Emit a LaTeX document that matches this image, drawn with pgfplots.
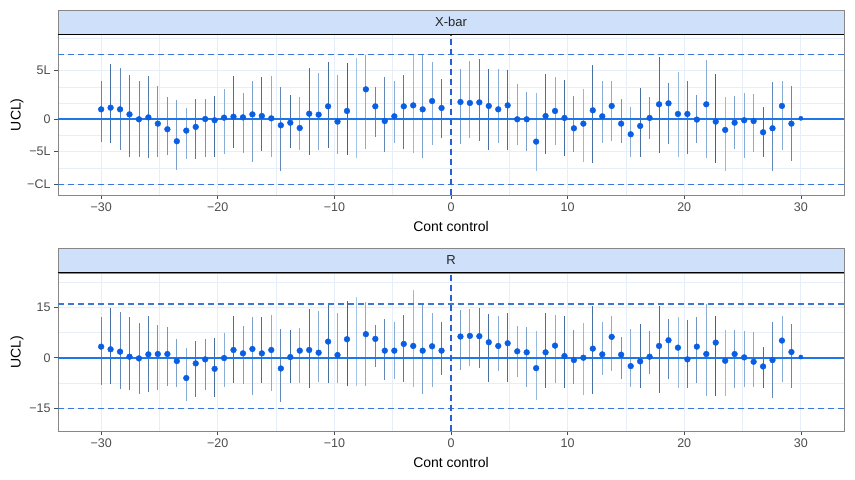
\documentclass[border=0pt]{standalone}
\usepackage{fontspec}
\setmainfont{Liberation Sans}
\usepackage{pgfplots}
\usepackage{pgfplotstable}
\pgfplotsset{compat=1.18}

\definecolor{ptblue}{RGB}{10,94,228}
\definecolor{meanblue}{RGB}{30,118,232}
\definecolor{limline}{RGB}{60,118,215}
\definecolor{zeroline}{RGB}{40,96,210}
\definecolor{gridc}{RGB}{230,238,249}
\definecolor{stripfill}{RGB}{207,224,250}
\definecolor{borderc}{RGB}{135,135,135}
\definecolor{ticklab}{RGB}{77,77,77}

% x-bar chart: subgroup mean, interval ends, shade of the interval
\pgfplotstableread{
x y lo hi c
-30.00 1.03 -2.31 4.00 0.6
-29.19 1.20 -2.49 5.72 0.8
-28.38 1.03 -3.18 5.27 0.6
-27.57 0.51 -3.93 4.58 0.7
-26.76 0.00 -3.86 3.93 0.6
-25.95 0.20 -4.03 4.48 0.7
-25.14 -0.45 -3.86 3.48 0.5
-24.32 -1.03 -3.72 2.27 0.5
-23.51 -2.27 -5.24 2.00 0.4
-22.70 -1.17 -4.07 1.20 0.3
-21.89 -0.79 -4.07 2.13 0.7
-21.08 0.03 -3.86 2.10 0.5
-20.27 -0.10 -3.86 2.37 0.8
-19.46 0.17 -3.59 3.13 0.3
-18.65 0.27 -2.93 4.51 0.8
-17.84 0.20 -3.45 2.76 0.4
-17.03 0.51 -4.38 3.96 0.4
-16.22 0.34 -3.24 4.34 0.8
-15.41 0.10 -3.86 4.48 0.3
-14.59 -0.62 -5.31 3.34 0.6
-13.78 -0.35 -2.93 2.51 0.8
-12.97 -0.90 -3.18 2.34 0.3
-12.16 0.58 -3.69 5.27 0.8
-11.35 0.48 -3.17 4.82 0.3
-10.54 1.34 -2.93 5.96 0.8
-9.73 -0.24 -3.59 4.58 0.3
-8.92 0.86 -3.69 5.79 0.9
-8.11 nan -3.97 6.37 0.1
-7.30 3.10 -3.10 6.65 0.3
-6.49 1.34 -1.80 3.37 0.6
-5.68 -0.18 -3.35 4.41 0.6
-4.86 0.31 -2.48 4.00 0.3
-4.05 1.34 -3.10 4.58 0.7
-3.24 1.44 -3.52 6.65 0.2
-2.43 1.03 -4.03 6.65 0.4
-1.62 1.89 -2.65 5.96 0.3
-0.81 1.17 -1.97 4.13 0.7
0.81 1.79 -2.55 5.17 0.4
1.62 1.69 -1.97 6.03 0.3
2.43 1.75 -2.20 6.24 0.7
3.24 1.38 -3.17 5.17 0.8
4.05 1.03 -2.48 5.17 0.3
4.86 1.44 -3.17 5.10 0.8
5.68 0.00 -2.65 3.65 0.3
6.49 0.00 -3.24 2.86 0.4
7.30 -2.31 -5.31 2.69 0.2
8.11 0.34 -3.59 4.69 0.8
8.92 0.86 -2.65 4.34 0.3
9.73 0.14 -3.75 4.07 0.8
10.54 -0.93 -3.35 2.45 0.5
11.35 -0.45 -4.38 3.10 0.2
12.16 0.93 -4.48 5.62 0.8
12.97 0.31 -2.41 4.00 0.3
13.78 1.38 -2.20 4.00 0.3
14.59 -0.45 -2.41 2.07 0.5
15.41 -1.55 -3.86 1.24 0.3
16.22 -0.69 -3.93 3.27 0.8
17.03 0.14 -2.03 2.34 0.5
17.84 1.55 -3.52 6.48 0.8
18.65 1.65 -2.58 3.72 0.6
19.46 0.55 -3.86 4.93 0.2
20.27 0.55 -3.59 3.96 0.7
21.08 -0.03 -2.41 2.51 0.5
21.89 1.55 -3.97 6.13 0.3
22.70 -0.24 -4.48 4.65 0.9
23.51 -1.10 -5.31 2.34 0.2
24.32 -0.35 -3.10 2.41 0.4
25.14 -0.10 -3.97 2.69 0.3
25.95 -0.18 -3.35 2.62 0.3
26.76 -1.34 -3.86 1.31 0.8
27.57 -0.93 -5.31 3.89 0.6
28.38 1.38 -3.17 4.00 0.3
29.19 -0.45 -4.27 3.48 0.6
}\xbartab

% R chart: subgroup range, interval ends, shade of the interval
\pgfplotstableread{
x y lo hi c
-30.00 3.29 -8.15 12.2 0.6
-29.19 2.50 -7.85 14.7 0.8
-28.38 1.80 -9.40 13.5 0.6
-27.57 0.30 -9.60 12.0 0.7
-26.76 -0.20 -10.8 10.4 0.6
-25.95 1.00 -10.1 12.4 0.7
-25.14 1.10 -9.60 9.8 0.5
-24.32 1.10 -8.30 9.0 0.5
-23.51 -1.00 -8.60 5.6 0.4
-22.70 -6.05 -12.8 3.0 0.3
-21.89 -1.70 -11.6 4.98 0.7
-21.08 -0.50 -9.60 5.6 0.5
-20.27 -3.30 -11.6 5.9 0.8
-19.46 -0.10 -8.60 7.5 0.3
-18.65 2.30 -7.50 12.4 0.8
-17.84 1.30 -7.70 9.5 0.4
-17.03 2.60 -11.1 12.2 0.4
-16.22 1.30 -7.50 12.2 0.8
-15.41 2.30 -9.80 12.7 0.3
-14.59 -3.20 -13.1 8.4 0.6
-13.78 0.20 -7.65 8.1 0.8
-12.97 2.10 -7.45 8.75 0.3
-12.16 2.30 -8.90 14.5 0.8
-11.35 1.50 -7.20 13.9 0.3
-10.54 4.80 -7.65 16.0 0.8
-9.73 0.80 -7.45 13.4 0.3
-8.92 5.50 -8.45 17.0 0.9
-8.11 nan -8.50 18.1 0.1
-7.30 7.00 -8.45 16.5 0.3
-6.49 5.60 -2.70 9.7 0.6
-5.68 2.10 -6.65 11.4 0.6
-4.86 2.10 -6.20 10.7 0.3
-4.05 4.10 -7.20 12.7 0.7
-3.24 3.50 -8.65 20.0 0.2
-2.43 2.10 -10.8 15.7 0.4
-1.62 3.40 -8.85 13.2 0.3
-0.81 2.10 -5.15 10.5 0.7
0.81 6.30 -3.70 14.2 0.4
1.62 6.50 -2.50 14.4 0.3
2.43 6.40 -3.20 14.7 0.7
3.24 4.60 -7.20 13.0 0.8
4.05 3.50 -4.00 12.4 0.3
4.86 4.30 -7.20 13.2 0.8
5.68 1.90 -5.70 9.45 0.3
6.49 1.60 -8.85 9.2 0.4
7.30 -3.10 -12.6 8.05 0.2
8.11 1.60 -9.15 13.4 0.8
8.92 3.60 -7.65 12.7 0.3
9.73 0.50 -8.95 12.4 0.8
10.54 -0.70 -7.95 8.25 0.5
11.35 0.00 -11.1 10.2 0.2
12.16 2.70 -10.8 15.4 0.8
12.97 1.00 -5.15 10.7 0.3
13.78 6.20 -3.90 12.5 0.3
14.59 0.90 -6.45 6.3 0.5
15.41 -2.50 -8.65 8.55 0.3
16.22 -1.10 -8.95 10.0 0.8
17.03 0.30 -4.95 8.05 0.5
17.84 3.50 -10.4 15.4 0.8
18.65 5.20 -6.35 11.5 0.6
19.46 3.00 -8.95 12.2 0.2
20.27 -0.50 -8.95 11.2 0.7
21.08 3.30 -7.65 12.2 0.5
21.89 1.10 -11.4 16.0 0.3
22.70 4.50 -11.4 12.5 0.9
23.51 -0.90 -11.4 8.25 0.2
24.32 1.10 -9.15 8.25 0.4
25.14 0.10 -8.85 7.95 0.3
25.95 -1.20 -8.85 7.75 0.3
26.76 -2.60 -8.95 3.2 0.8
27.57 -0.70 -12.1 10.7 0.6
28.38 5.10 -7.35 12.4 0.3
29.19 1.70 -8.95 10.0 0.6
}\rtab

\pgfplotsset{
  panel/.style={
    scale only axis, width=786bp,
    xmin=-33.7, xmax=33.7,
    axis line style={draw=borderc, line width=0.7bp},
    xtick={-30,-20,-10,0,10,20,30},
    xticklabels={−30,−20,−10,0,10,20,30},
    minor xtick={-25,-15,-5,5,15,25},
    grid=both,
    major grid style={draw=gridc, line width=1bp},
    minor grid style={draw=gridc, line width=0.6bp},
    tick align=outside, major tick length=4bp, minor tick length=0pt,
    tick style={draw=ticklab, line width=0.7bp},
    xtick pos=bottom, ytick pos=left,
    ticklabel style={font=\fontsize{12.5bp}{14bp}\selectfont, text=ticklab},
    xlabel={Cont control}, ylabel={UCL)},
    every axis x label/.style={at={(axis description cs:0.5,0)}, anchor=center,
      yshift=-31bp, font=\fontsize{14bp}{16bp}\selectfont, text=black},
    every axis y label/.style={at={(axis description cs:-0.0522,0.5)}, rotate=90,
      anchor=center, font=\fontsize{14bp}{16bp}\selectfont, text=black},
    colormap={bars}{rgb255(0cm)=(176,210,242); rgb255(1cm)=(46,88,142)},
    point meta min=0, point meta max=1,
    clip=true,
  },
  intervals/.style={
    quiver={u=0, v=\thisrow{hi}-\thisrow{lo},
      every arrow/.append style={draw=mapped color, line width=0.85bp}},
    point meta=\thisrow{c},
  },
  centreline/.style={color=meanblue, line width=2bp},
  limit/.style={color=limline, line width=1.5bp, dash pattern=on 6bp off 4bp},
  origin/.style={color=zeroline, line width=1.1bp, dash pattern=on 6bp off 4bp},
}

\begin{document}
\begin{tikzpicture}
\useasboundingbox (0,0) rectangle (855bp,480bp);

% ---------- X-bar panel ----------
\begin{axis}[panel, at={(58bp,285bp)}, anchor=south west, height=160.5bp,
  ymin=-7.83, ymax=8.77,
  ytick={-6.7,-3.35,0,5.025}, yticklabels={−CL,−5L,0,5L},
  minor ytick={-5.025,-1.675,1.675,3.35,6.7,8.375}]
  \addplot[intervals] table[x=x, y=lo] {\xbartab};
  \addplot[centreline] coordinates {(-33.7,0) (33.7,0)};
  \addplot[limit] coordinates {(-33.7,6.7) (33.7,6.7)};
  \addplot[limit] coordinates {(-33.7,-6.72) (33.7,-6.72)};
  \addplot[origin] coordinates {(0,-7.83) (0,8.77)};
  \addplot[only marks, mark=*, mark size=2.9bp, color=ptblue] table[x=x, y=y] {\xbartab};
  \addplot[only marks, mark=*, mark size=2.1bp, color=ptblue] coordinates {(30,0.1)};
\end{axis}
\fill[stripfill] (58bp,445.5bp) rectangle (844bp,470bp);
\draw[borderc, line width=0.7bp] (58bp,445.5bp) -- (58bp,470bp) -- (844bp,470bp) -- (844bp,445.5bp);
\draw[black, line width=1bp] (58bp,445.5bp) -- (844bp,445.5bp);
\node[font=\fontsize{13bp}{15bp}\selectfont, text=black!85] at (451bp,457.8bp) {X-bar};

% ---------- R panel ----------
\begin{axis}[panel, at={(58bp,49bp)}, anchor=south west, height=158bp,
  ymin=-21.8, ymax=25.2,
  ytick={-15,0,15}, yticklabels={−15,0,15},
  minor ytick={-7.5,7.5,22.5}]
  \addplot[intervals] table[x=x, y=lo] {\rtab};
  \addplot[centreline] coordinates {(-33.7,0) (33.7,0)};
  \addplot[limit] coordinates {(-33.7,16) (33.7,16)};
  \addplot[limit] coordinates {(-33.7,-15.1) (33.7,-15.1)};
  \addplot[origin] coordinates {(0,-21.8) (0,25.2)};
  \addplot[only marks, mark=*, mark size=2.9bp, color=ptblue] table[x=x, y=y] {\rtab};
  \addplot[only marks, mark=*, mark size=2.1bp, color=ptblue] coordinates {(30,0.2)};
\end{axis}
\fill[stripfill] (58bp,207bp) rectangle (844bp,232bp);
\draw[borderc, line width=0.7bp] (58bp,207bp) -- (58bp,232bp) -- (844bp,232bp) -- (844bp,207bp);
\draw[black, line width=1bp] (58bp,207bp) -- (844bp,207bp);
\node[font=\fontsize{13bp}{15bp}\selectfont, text=black!85] at (451bp,219.5bp) {R};
\end{tikzpicture}
\end{document}
